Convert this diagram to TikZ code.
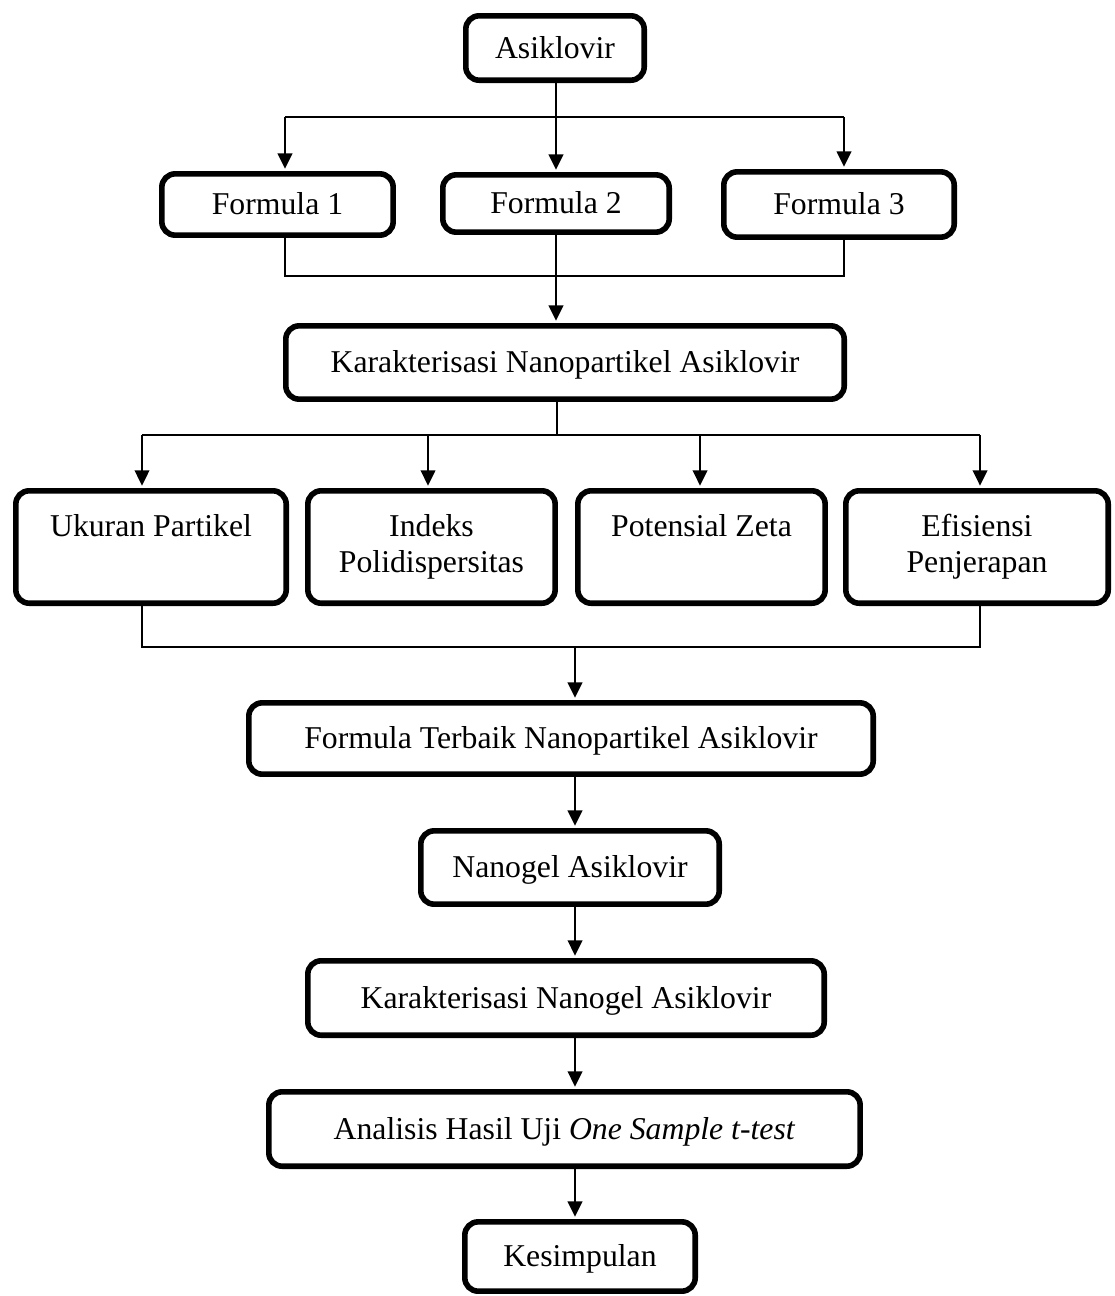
\documentclass[tikz,border=0pt]{standalone}
\usepackage{fontspec}
\setmainfont{Liberation Serif}
\usetikzlibrary{arrows.meta}
\begin{document}
\begin{tikzpicture}[x=0.75pt,y=-0.75pt,
  box/.style={draw, line width=4.2pt, rounded corners=10pt, inner sep=0pt,
    font=\fontsize{23.8}{27}\selectfont, text height=15pt, text depth=0pt},
  rowbox/.style={draw, line width=4.2pt, rounded corners=10pt, inner sep=0pt,
    align=center, font=\fontsize{23.8}{27}\selectfont, minimum height=84.3pt},
  ln/.style={line width=0.8pt},
  arr/.style={line width=1.5pt, shorten >=1.8pt, -{Triangle[length=11.5pt,width=11pt]}}]
\useasboundingbox (0,0) rectangle (1114,1296);

% boxes
\node[box, minimum width=133.8pt, minimum height=48.3pt] (asik) at (555,48) {Asiklovir};
\node[box, minimum width=173.5pt, minimum height=46pt] (f1) at (277.5,204.5) {Formula 1};
\node[box, minimum width=169.8pt, minimum height=43pt] (f2) at (556,203.5) {Formula 2};
\node[box, minimum width=172.8pt, minimum height=49pt] (f3) at (839,204.5) {Formula 3};
\node[box, minimum width=418.8pt, minimum height=55pt] (kn) at (565,362.5) {Karakterisasi Nanopartikel Asiklovir};

\node[rowbox, minimum width=202.8pt] (uk) at (151,547) {\strut Ukuran Partikel\\\strut};
\node[rowbox, minimum width=185.5pt] (ip) at (431.5,547) {\strut Indeks\\\strut Polidispersitas};
\node[rowbox, minimum width=185.5pt] (pz) at (701.5,547) {\strut Potensial Zeta\\\strut};
\node[rowbox, minimum width=196.8pt] (ep) at (977,547) {\strut Efisiensi\\\strut Penjerapan};

\node[box, minimum width=468.3pt, minimum height=53.5pt] (ft) at (561,738.5) {Formula Terbaik Nanopartikel Asiklovir};
\node[box, minimum width=223.8pt, minimum height=55pt] (na) at (570,867.5) {Nanogel Asiklovir};
\node[box, minimum width=387.3pt, minimum height=55.8pt] (kg) at (566,998) {Karakterisasi Nanogel Asiklovir};
\node[box, minimum width=443.5pt, minimum height=55.8pt] (an) at (564.5,1129) {Analisis Hasil Uji \textit{One Sample t-test}};
\node[box, minimum width=172.8pt, minimum height=52pt] (ks) at (580,1256.5) {Kesimpulan};

% top branch
\coordinate (bL) at (285,117);
\coordinate (bR) at (844,117);
\draw[ln] (bL) -- (bR);
\draw[arr] (asik.south -| f2.north) -- (f2.north);
\draw[arr] (bL) -- (bL |- f1.north);
\draw[arr] (bR) -- (bR |- f3.north);

% join formulas
\coordinate (jL) at (285,276);
\coordinate (jR) at (844,276);
\draw[ln] (jL |- f1.south) -- (jL) -- (jR) -- (jR |- f3.south);
\draw[arr] (f2.south) -- (f2.south |- kn.north);

% second branch
\coordinate (kb) at (557,435);
\coordinate (r1) at (142,435);
\coordinate (r2) at (428,435);
\coordinate (r3) at (700,435);
\coordinate (r4) at (980,435);
\draw[ln] (kb |- kn.south) -- (kb);
\draw[ln] (r1) -- (r4);
\draw[arr] (r1) -- (r1 |- uk.north);
\draw[arr] (r2) -- (r2 |- ip.north);
\draw[arr] (r3) -- (r3 |- pz.north);
\draw[arr] (r4) -- (r4 |- ep.north);

% join row
\coordinate (sL) at (142,647);
\coordinate (sR) at (980,647);
\coordinate (sM) at (575,647);
\draw[ln] (sL |- uk.south) -- (sL) -- (sR) -- (sR |- ep.south);
\draw[arr] (sM) -- (sM |- ft.north);

% chain
\draw[arr] (sM |- ft.south) -- (sM |- na.north);
\draw[arr] (sM |- na.south) -- (sM |- kg.north);
\draw[arr] (sM |- kg.south) -- (sM |- an.north);
\draw[arr] (sM |- an.south) -- (sM |- ks.north);
\end{tikzpicture}
\end{document}
